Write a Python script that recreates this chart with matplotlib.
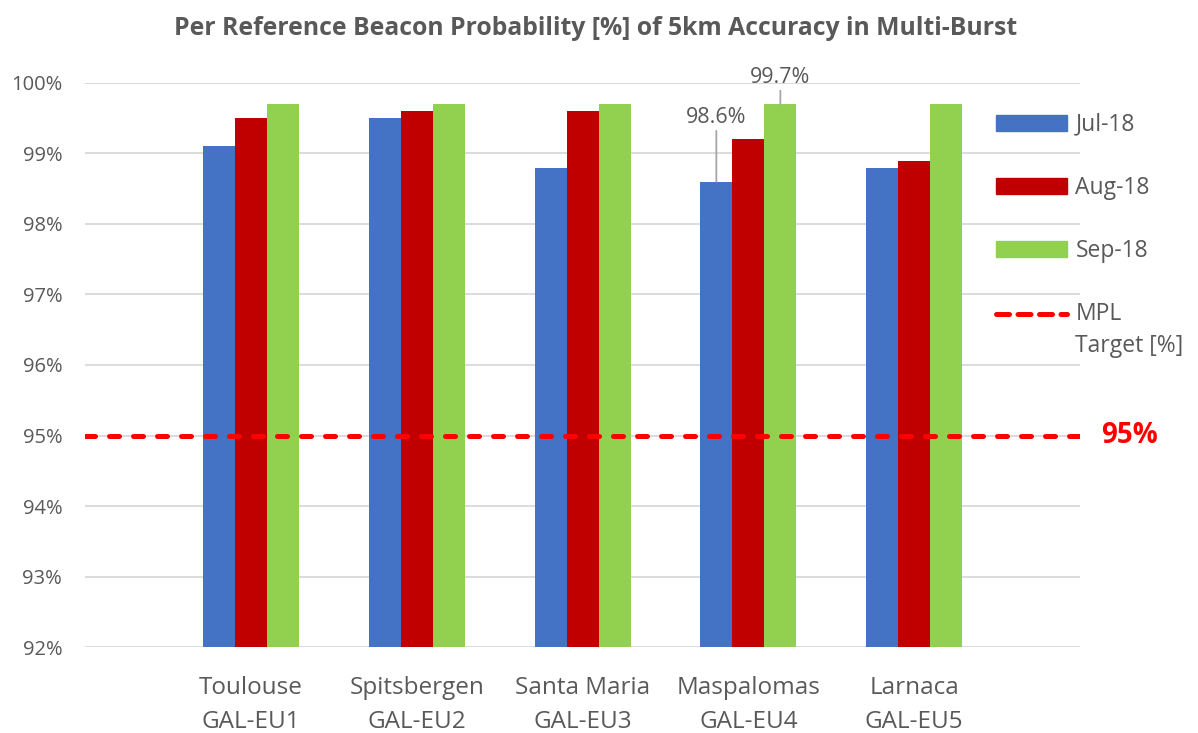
import numpy as np
import matplotlib
matplotlib.use("Agg")
import matplotlib.pyplot as plt
from matplotlib.lines import Line2D
from matplotlib.patches import Patch
from matplotlib.legend_handler import HandlerLine2D

# data
sites = ["Toulouse\nGAL-EU1", "Spitsbergen\nGAL-EU2", "Santa Maria\nGAL-EU3",
         "Maspalomas\nGAL-EU4", "Larnaca\nGAL-EU5"]
months = ["Jul-18", "Aug-18", "Sep-18"]
jul = [99.1, 99.5, 98.8, 98.6, 98.8]
aug = [99.5, 99.6, 99.6, 99.2, 98.9]
sep = [99.7, 99.7, 99.7, 99.7, 99.7]
target = 95
yticks = [92, 93, 94, 95, 96, 97, 98, 99, 100]

colors = ["#4472C4", "#C00000", "#92D050"]
grey = "#595959"
plt.rcParams["font.family"] = ["Open Sans", "DejaVu Sans"]


# keeps the dashed legend sample level with the first line of a 2-line label
class FirstLineHandler(HandlerLine2D):
    def create_artists(self, legend, orig_handle, xdescent, ydescent,
                       width, height, fontsize, trans):
        arts = super().create_artists(legend, orig_handle, xdescent, ydescent,
                                      width, height, fontsize, trans)
        for a in arts:
            a.set_ydata(np.asarray(a.get_ydata()) + 0.72 * fontsize)
        return arts


fig = plt.figure(figsize=(11.98, 7.33), dpi=100)
ax = fig.add_axes([0.071, 0.1173, 0.8305, 0.7695])

x = np.arange(len(sites))
w = 0.193
for k, vals in enumerate([jul, aug, sep]):
    ax.bar(x + (k - 1) * w, vals, width=w, color=colors[k], zorder=2)

ax.set_ylim(92, 100)
ax.set_xlim(-1, len(sites))
ax.set_yticks(yticks)
ax.set_yticklabels([f"{t}%" for t in yticks], fontsize=14.5, color=grey)
ax.set_xticks(x)
ax.set_xticklabels(sites, fontsize=17.5, color=grey, linespacing=1.55)
ax.tick_params(length=0)
ax.tick_params(axis="x", pad=21)
ax.tick_params(axis="y", pad=16.5)
ax.grid(axis="y", color="#D9D9D9", linewidth=1.3, zorder=0)
ax.set_axisbelow(True)
for s in ax.spines.values():
    s.set_visible(False)

# target line
dash = (0, (2.0, 2.8))
ax.axhline(target, color="#FF0000", linestyle=dash, dash_capstyle="round",
           linewidth=3.6, zorder=3)
ax.text(1.021, target, f"{target}%", transform=ax.get_yaxis_transform(),
        color="#FF0000", fontsize=20, fontweight="bold", va="center", ha="left")

# data labels with leader lines (Maspalomas)
i = 3
ax.annotate(f"{jul[i]}%", xy=(x[i] - w, jul[i]), xytext=(x[i] - w, 99.36),
            ha="center", va="bottom", fontsize=15.4, color=grey,
            arrowprops=dict(arrowstyle="-", color="#A6A6A6", lw=1.3, shrinkA=0, shrinkB=0))
ax.annotate(f"{sep[i]}%", xy=(x[i] + w, sep[i]), xytext=(x[i] + w, 99.93),
            ha="center", va="bottom", fontsize=15.4, color=grey,
            arrowprops=dict(arrowstyle="-", color="#A6A6A6", lw=1.3, shrinkA=0, shrinkB=0),
            annotation_clip=False)

mpl_line = Line2D([], [], color="#FF0000", linestyle=(0, (2.6, 1.7)),
                  dash_capstyle="round", linewidth=3.6)
handles = [Patch(color=c) for c in colors] + [mpl_line]
labels = months + ["MPL\nTarget [%]"]
leg = ax.legend(handles, labels, loc="upper left", bbox_to_anchor=(0.916, 0.947),
                frameon=False, fontsize=16.5, handlelength=3.1, handleheight=0.7,
                labelspacing=1.7, handletextpad=0.35, borderaxespad=0, borderpad=0,
                handler_map={mpl_line: FirstLineHandler()})
for t in leg.get_texts():
    t.set_color(grey)
    t.set_linespacing(1.45)

fig.text(0.497, 0.961, "Per Reference Beacon Probability [%] of 5km Accuracy in Multi-Burst",
         ha="center", va="center", fontsize=17.8, fontweight="bold", color=grey)

fig.savefig("out.png", dpi=100)
